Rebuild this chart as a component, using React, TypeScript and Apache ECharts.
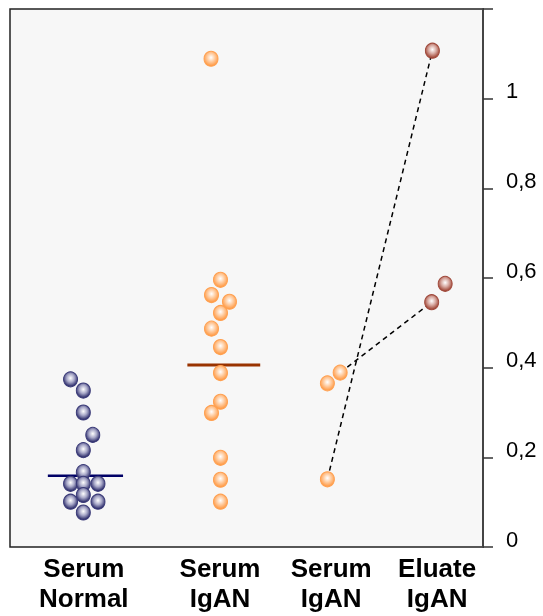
import React, { useEffect, useRef } from "react";
import * as echarts from "echarts";

// Category labels and their positions on the (hidden) x scale
const categories = ["Serum\nNormal", "Serum\nIgAN", "Serum\nIgAN", "Eluate\nIgAN"];
const categoryX = [15.6, 44.4, 67.9, 90.3];

// Serum Normal
const normalX = [12.8, 15.5, 15.5, 17.5, 15.5, 15.5, 12.8, 15.5, 18.6, 15.5, 12.8, 18.6, 15.5];
const normalY = [0.374, 0.349, 0.3, 0.25, 0.216, 0.167, 0.141, 0.141, 0.141, 0.116, 0.101, 0.101, 0.077];
const normalMedian = 0.159;
const normalMedianX = [8.0, 23.9];

// Serum IgAN
const igX = [42.5, 44.5, 42.6, 46.4, 44.5, 42.6, 44.5, 44.5, 44.5, 42.6, 44.5, 44.5, 44.5];
const igY = [1.089, 0.596, 0.562, 0.547, 0.522, 0.487, 0.446, 0.388, 0.324, 0.299, 0.199, 0.15, 0.101];
const igMedian = 0.406;
const igMedianX = [37.5, 52.9];

// Paired Serum IgAN / Eluate IgAN
const pairSerumX = [69.8, 67.1, 67.1];
const pairSerumY = [0.389, 0.365, 0.151];
const eluateX = [89.3, 92.0, 89.15];
const eluateY = [1.107, 0.587, 0.546];
// connections: [serum index, eluate index]
const links = [
  [2, 0],
  [0, 2],
];

const yTicks = { min: 0, max: 1.2, interval: 0.2 };

function ball(edge: string, mid: string) {
  return new echarts.graphic.RadialGradient(0.5, 0.42, 0.55, [
    { offset: 0, color: "#ffffff" },
    { offset: 0.5, color: mid },
    { offset: 1, color: edge },
  ]);
}

export default function App() {
  const ref = useRef<HTMLDivElement>(null);
  useEffect(() => {
    if (!ref.current) return;
    const chart = echarts.init(ref.current, null, { renderer: "svg" });
    const zip = (xs: number[], ys: number[]) => xs.map((x, i) => [x, ys[i]]);
    const linkSeries = links.map(([s, e]) => ({
      type: "line",
      data: [
        [pairSerumX[s], pairSerumY[s]],
        [eluateX[e], eluateY[e]],
      ],
      symbol: "none",
      lineStyle: { color: "#000", width: 1.5, type: [5, 4] },
      z: 2,
      silent: true,
    }));
    chart.setOption({
      animation: false,
      grid: {
        left: 10,
        right: 60,
        top: 9,
        bottom: 69,
        show: true,
        backgroundColor: "#f7f7f7",
        borderColor: "#222",
        borderWidth: 1.5,
      },
      xAxis: {
        type: "value",
        min: 0,
        max: 100,
        splitLine: { show: false },
        axisLine: { show: false, onZero: false },
        axisTick: { show: false },
        axisLabel: {
          customValues: categoryX,
          formatter: (v: number) => {
            const i = categoryX.findIndex((c) => Math.abs(c - v) < 1e-6);
            return i >= 0 ? categories[i] : "";
          },
          margin: 6,
          color: "#000",
          fontFamily: "Liberation Sans, Arial, sans-serif",
          fontWeight: "bold",
          fontSize: 26,
          lineHeight: 30,
          verticalAlign: "top",
        },
      },
      yAxis: {
        type: "value",
        position: "right",
        min: yTicks.min,
        max: yTicks.max,
        interval: yTicks.interval,
        splitLine: { show: false },
        axisLine: { show: true, onZero: false, lineStyle: { color: "#444", width: 2 } },
        axisTick: { show: true, length: 10, lineStyle: { color: "#333", width: 1.5 } },
        axisLabel: {
          margin: 23,
          color: "#000",
          fontFamily: "Liberation Sans, Arial, sans-serif",
          fontSize: 22,
          lineHeight: 16,
          verticalAlign: "bottom",
          formatter: (v: number) => {
            if (v > 1.19) return "";
            return String(Math.round(v * 10) / 10).replace(".", ",");
          },
        },
      },
      series: [
        ...linkSeries,
        {
          type: "line",
          data: normalMedianX.map((x) => [x, normalMedian]),
          symbol: "none",
          lineStyle: { color: "#000066", width: 2.5 },
          z: 2,
        },
        {
          type: "line",
          data: igMedianX.map((x) => [x, igMedian]),
          symbol: "none",
          lineStyle: { color: "#993300", width: 3 },
          z: 2,
        },
        {
          type: "scatter",
          data: zip(normalX, normalY),
          symbol: "circle",
          symbolSize: [14, 15],
          itemStyle: { color: ball("#2c2c6a", "#a8a8c8"), borderColor: "#3a3a78", borderWidth: 1, opacity: 1 },
          z: 4,
        },
        {
          type: "scatter",
          data: zip(igX, igY),
          symbol: "circle",
          symbolSize: [14, 15],
          itemStyle: { color: ball("#ff9a45", "#ffcca0"), borderColor: "#ffa050", borderWidth: 1, opacity: 1 },
          z: 4,
        },
        {
          type: "scatter",
          data: zip(pairSerumX, pairSerumY),
          symbol: "circle",
          symbolSize: [14, 15],
          itemStyle: { color: ball("#ff9a45", "#ffcca0"), borderColor: "#ffa050", borderWidth: 1, opacity: 1 },
          z: 4,
        },
        {
          type: "scatter",
          data: zip(eluateX, eluateY),
          symbol: "circle",
          symbolSize: [14, 15],
          itemStyle: { color: ball("#a04535", "#d8aaa2"), borderColor: "#a04a3c", borderWidth: 1, opacity: 1 },
          z: 4,
        },
      ],
    });
    return () => chart.dispose();
  }, []);
  return (
    <div
      ref={ref}
      style={{ position: "fixed", left: 0, top: 0, width: 543, height: 616 }}
    />
  );
}
